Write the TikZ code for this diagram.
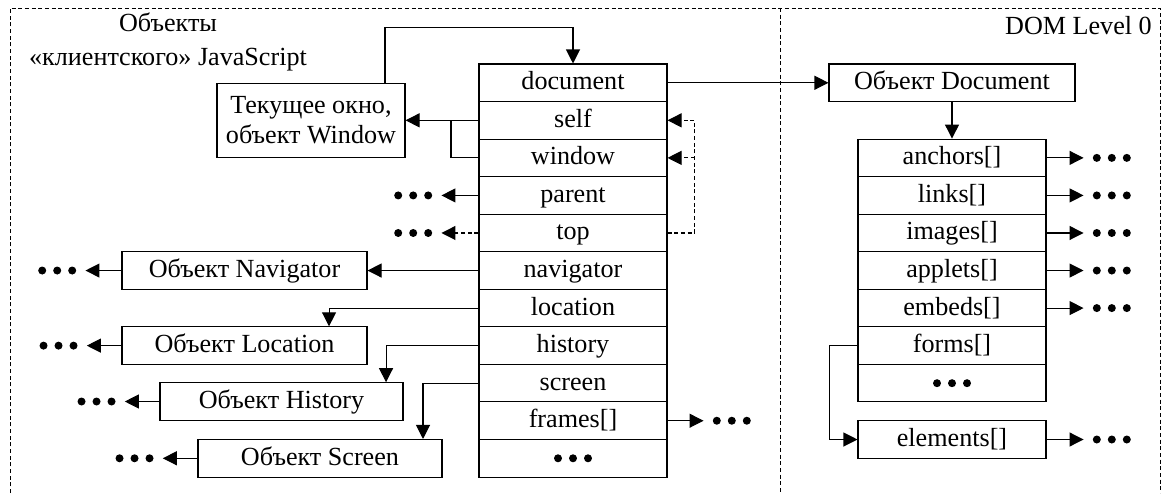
\documentclass[tikz,border=0pt]{standalone}
\usepackage{fontspec}
\setmainfont{Liberation Serif}
\usetikzlibrary{arrows.meta}
\tikzset{
  txt/.style={font=\fontsize{19.6}{26}\selectfont},
  box/.style={draw, line width=0.8pt, rectangle, inner sep=0pt, minimum height=28.16pt, txt,
              text height=13.5pt, text depth=3pt},
  row/.style={box, minimum width=141pt},
  conn/.style={line width=0.8pt, -{Triangle[length=10.5pt,width=10.5pt]}},
  plain/.style={line width=0.8pt},
  dashconn/.style={conn, dash pattern=on 3pt off 2pt},
  frameline/.style={line width=0.6pt, dash pattern=on 3pt off 2pt},
  threedots/.style={path picture={\foreach \dx in {-11.25,0,11.25}
      \fill ([xshift=\dx pt]path picture bounding box.center) circle (3pt);}},
  dots/.style={threedots, minimum width=42pt, minimum height=9pt, inner sep=0pt},
}
\begin{document}
\begin{tikzpicture}[x=0.75pt,y=-0.75pt]
\useasboundingbox (0,0) rectangle (1163,493);
% frames
\coordinate (fbl) at (10,493);
\coordinate (ftl) at (10,8);
\coordinate (ftr) at (1160,8);
\coordinate (fbr) at (1160,493);
\coordinate (fdt) at (780,8);
\coordinate (fdb) at (780,493);
\draw[frameline] (fbl) -- (ftl) -- (ftr) -- (fbr);
\draw[frameline] (fdt) -- (fdb);
% titles
\node[txt, align=center, inner sep=0pt] (t1) at (168,42) {Объекты\\«клиентского» JavaScript};
\node[txt, anchor=east, inner sep=0pt] (t2) at (1152,26) {DOM Level 0};
% window table
\node[row] (document) at (573,82.78) {document};
\node[row] (self) at (573,120.33) {self};
\node[row] (window) at (573,157.88) {window};
\node[row] (parent) at (573,195.43) {parent};
\node[row] (top) at (573,232.98) {top};
\node[row] (navigator) at (573,270.53) {navigator};
\node[row] (location) at (573,308.08) {location};
\node[row] (history) at (573,345.63) {history};
\node[row] (screen) at (573,383.18) {screen};
\node[row] (frames) at (573,420.73) {frames[]};
\node[row, threedots] (mdots) at (573,458.28) {};
% window box
\node[draw, line width=0.8pt, inner sep=0pt, align=center, minimum width=141pt, minimum height=55.5pt,
      font=\fontsize{19.6}{22.5}\selectfont] (win) at (311,120.33) {Текущее окно,\\объект Window};
% object boxes
\node[box, minimum width=183.75pt] (nav) at (244.5,270.53) {Объект Navigator};
\node[box, minimum width=183.75pt] (loc) at (244.5,345.63) {Объект Location};
\node[box, minimum width=182.25pt] (his) at (281.5,401.5) {Объект History};
\node[box, minimum width=183pt] (scr) at (320,458.28) {Объект Screen};
% DOM
\node[box, minimum width=184.5pt] (Doc) at (952,82.78) {Объект Document};
\node[row] (anchors) at (952,157.88) {anchors[]};
\node[row] (links) at (952,195.43) {links[]};
\node[row] (images) at (952,232.98) {images[]};
\node[row] (applets) at (952,270.53) {applets[]};
\node[row] (embeds) at (952,308.08) {embeds[]};
\node[row] (forms) at (952,345.63) {forms[]};
\node[row, threedots] (ddots) at (952,383.18) {};
\node[row] (elements) at (952,439.5) {elements[]};
% dots
\node[dots, anchor=east] (pd) at ([xshift=-27.75pt]parent.west) {};
\node[dots, anchor=east] (td) at ([xshift=-27.75pt]top.west) {};
\node[dots, anchor=east] (nd) at ([xshift=-27pt]nav.west) {};
\node[dots, anchor=east] (ld) at ([xshift=-26pt]loc.west) {};
\node[dots, anchor=east] (hd) at ([xshift=-26pt]his.west) {};
\node[dots, anchor=east] (sd) at ([xshift=-26pt]scr.west) {};
\node[dots, anchor=west] (fd) at ([xshift=27pt]frames.east) {};
\node[dots, anchor=west] (ad) at ([xshift=27.75pt]anchors.east) {};
\node[dots, anchor=west] (lkd) at ([xshift=27.75pt]links.east) {};
\node[dots, anchor=west] (imd) at ([xshift=27.75pt]images.east) {};
\node[dots, anchor=west] (apd) at ([xshift=27.75pt]applets.east) {};
\node[dots, anchor=west] (emd) at ([xshift=27.75pt]embeds.east) {};
\node[dots, anchor=west] (eld) at ([xshift=27.75pt]elements.east) {};
% connectors
\draw[conn] ([xshift=55.5pt]win.north) -- ++(0,-55) -| (document.north);
\draw[conn] (self.west) -- (self.west -| win.east);
\coordinate (j1) at (451,120.33);
\draw[plain] (window.west) -| (j1);
\path (top.east) ++(27,0) coordinate (dtop);
\draw[dashconn] (top.east) -- (dtop) |- (self.east);
\draw[dashconn] (dtop |- window.east) -- (window.east);
\draw[conn] (parent.west) -- (pd.east);
\draw[dashconn] (top.west) -- (td.east);
\draw[conn] (navigator.west) -- (nav.east);
\draw[conn] (location.west) -| ([xshift=63.4pt]loc.north);
\draw[conn] (history.west) -| ([xshift=78.4pt]his.north);
\draw[conn] (screen.west) -| ([xshift=77.25pt]scr.north);
\draw[conn] (nav.west) -- (nd.east);
\draw[conn] (loc.west) -- (ld.east);
\draw[conn] (his.west) -- (hd.east);
\draw[conn] (scr.west) -- (sd.east);
\draw[conn] (frames.east) -- (fd.west);
\draw[conn] (document.east) -- (Doc.west);
\draw[conn] (Doc.south) -- (anchors.north);
\draw[conn] (anchors.east) -- (ad.west);
\draw[conn] (links.east) -- (lkd.west);
\draw[conn] (images.east) -- (imd.west);
\draw[conn] (applets.east) -- (apd.west);
\draw[conn] (embeds.east) -- (emd.west);
\draw[conn] (elements.east) -- (eld.west);
\draw[conn] (forms.west) -- ++(-28,0) |- (elements.west);
\end{tikzpicture}
\end{document}
